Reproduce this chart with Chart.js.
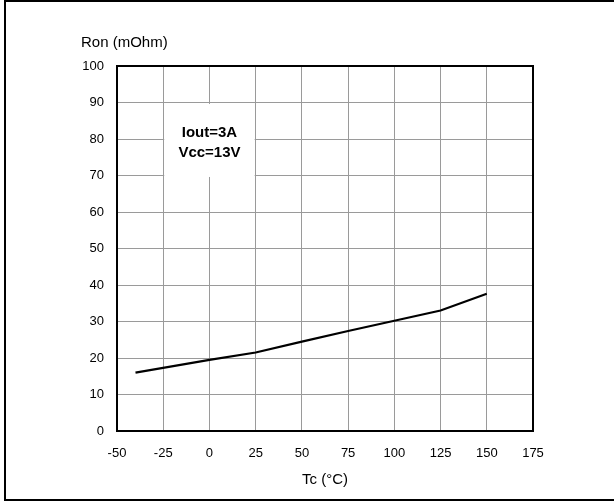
<!DOCTYPE html>
<html>
<head>
<meta charset="utf-8">
<script src="https://cdn.jsdelivr.net/npm/chart.js@4"></script>
<style>
  html, body { margin: 0; padding: 0; background: #fff; }
  #wrap { position: relative; width: 614px; height: 504px; }
  #frame { position: absolute; left: 4px; top: 0; width: 612px; height: 501px; border: 2px solid #000; border-right: none; box-sizing: border-box; pointer-events: none; }
  canvas { position: absolute; left: 0; top: 0; }
</style>
</head>
<body>
<div id="wrap">
  <canvas id="chart" width="614" height="504"></canvas>
  <div id="frame"></div>
</div>
<script>
// values
const temps = [-40, 0, 25, 50, 75, 100, 125, 150];
const ron = [16, 19.5, 21.5, 24.5, 27.4, 30.2, 33, 37.6];
const xTicks = [-50, -25, 0, 25, 50, 75, 100, 125, 150, 175];
const yTitle = "Ron (mOhm)";
const xTitle = "Tc (°C)";
const noteLines = ["Iout=3A", "Vcc=13V"];

const FONT = "'Liberation Sans', Arial, sans-serif";

const extras = {
  id: 'extras',
  beforeDatasetsDraw(chart) {
    const ctx = chart.ctx;
    const x = chart.scales.x, y = chart.scales.y;
    // white note box over the grid
    const l = x.getPixelForValue(-25) + 1, r = x.getPixelForValue(25) - 1;
    const t = y.getPixelForValue(89.6), b = y.getPixelForValue(69.6);
    ctx.save();
    ctx.fillStyle = '#fff';
    ctx.fillRect(l, t, r - l, b - t);
    ctx.fillStyle = '#000';
    ctx.font = 'bold 15px ' + FONT;
    ctx.textAlign = 'center';
    ctx.textBaseline = 'middle';
    const cx = x.getPixelForValue(0);
    ctx.fillText(noteLines[0], cx, 133);
    ctx.fillText(noteLines[1], cx, 153);
    ctx.restore();
  },
  afterDraw(chart) {
    const ctx = chart.ctx;
    const a = chart.chartArea;
    ctx.save();
    ctx.strokeStyle = '#000';
    ctx.lineWidth = 2;
    ctx.strokeRect(a.left, a.top, a.right - a.left, a.bottom - a.top);
    ctx.fillStyle = '#000';
    ctx.font = '15px ' + FONT;
    ctx.textBaseline = 'middle';
    ctx.textAlign = 'left';
    ctx.fillText(yTitle, 81, 43);
    ctx.textAlign = 'center';
    ctx.fillText(xTitle, (a.left + a.right) / 2, 480);
    ctx.restore();
  }
};

new Chart(document.getElementById('chart'), {
  type: 'scatter',
  data: {
    datasets: [{
      data: temps.map((t, i) => ({ x: t, y: ron[i] })),
      showLine: true,
      borderColor: '#000',
      borderWidth: 2.2,
      pointRadius: 0,
      tension: 0
    }]
  },
  options: {
    responsive: false,
    animation: false,
    layout: { padding: { left: 0, top: 66, right: 81, bottom: 0 } },
    plugins: { legend: { display: false }, tooltip: { enabled: false } },
    scales: {
      x: {
        type: 'linear',
        min: -50, max: 175,
        afterBuildTicks: s => { s.ticks = xTicks.map(v => ({ value: v })); },
        afterFit: s => { s.height = 73; },
        grid: { color: '#9a9a9a', lineWidth: 1, drawTicks: false },
        border: { display: false },
        ticks: { color: '#000', font: { family: FONT, size: 13 }, padding: 15, maxRotation: 0, autoSkip: false }
      },
      y: {
        min: 0, max: 100,
        ticks: { stepSize: 10, color: '#000', font: { family: FONT, size: 13 }, padding: 13 },
        afterFit: s => { s.width = 117; },
        grid: { color: '#9a9a9a', lineWidth: 1, drawTicks: false },
        border: { display: false }
      }
    }
  },
  plugins: [extras]
});
</script>
</body>
</html>
